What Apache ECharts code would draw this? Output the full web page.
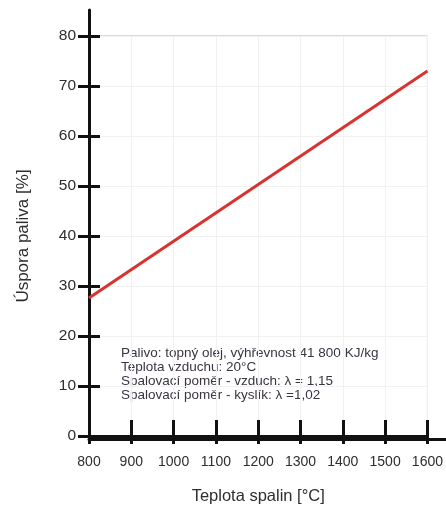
<!DOCTYPE html>
<html><head><meta charset="utf-8">
<script src="https://cdn.jsdelivr.net/npm/echarts@6/dist/echarts.min.js"></script>
<style>html,body{margin:0;padding:0;background:#fff}#c{width:446px;height:510px}</style>
</head><body><div id="c"></div>
<script>
const temps = [800, 1600];
const savings = [27.6, 73.0];
const xTitle = 'Teplota spalin [°C]';
const yTitle = 'Úspora paliva [%]';
const notes = [
  'Palivo: topný olej, výhřevnost 41 800 KJ/kg',
  'Teplota vzduchu: 20°C',
  'Spalovací poměr - vzduch: λ = 1,15',
  'Spalovací poměr - kyslík: λ =1,02'
];
const font = 'Liberation Sans, Arial, sans-serif';
const ink = '#111';
const txt = '#2e2e2e';
const chart = echarts.init(document.getElementById('c'));
const tickStyle = {color: ink, width: 3};
chart.setOption({
  animation: false,
  grid: [
    {left: 89, right: 16, top: 36, bottom: 71, show: true, borderColor: '#b8b8b8', borderWidth: 1},
    {left: 89, right: 0, top: 10, bottom: 71}
  ],
  xAxis: [
    {gridIndex: 0, type: 'value', min: 800, max: 1600, interval: 100,
     name: xTitle, nameLocation: 'middle', nameGap: 52,
     nameTextStyle: {fontFamily: font, fontSize: 16.5, color: txt},
     axisLine: {show: true, lineStyle: {color: ink, width: 3}},
     axisTick: {show: true, length: 8, lineStyle: tickStyle},
     axisLabel: {fontFamily: font, fontSize: 14, color: txt, margin: 19, formatter: v => String(v)},
     splitLine: {show: true, lineStyle: {color: '#f1f1f1', width: 1}}},
    {gridIndex: 0, type: 'value', min: 800, max: 1600, interval: 100, position: 'bottom',
     axisLine: {show: false}, axisTick: {show: true, inside: true, length: 16, lineStyle: tickStyle},
     axisLabel: {show: false}, splitLine: {show: false}},
    {gridIndex: 1, type: 'value', min: 0, max: 1,
     axisLine: {show: true, lineStyle: {color: ink, width: 3}}, axisTick: {show: false},
     axisLabel: {show: false}, splitLine: {show: false}}
  ],
  yAxis: [
    {gridIndex: 0, type: 'value', min: 0, max: 80, interval: 10,
     name: yTitle, nameLocation: 'middle', nameGap: 57,
     nameTextStyle: {fontFamily: font, fontSize: 17, color: txt},
     axisLine: {show: true, lineStyle: {color: ink, width: 3}},
     axisTick: {show: true, length: 11, lineStyle: tickStyle},
     axisLabel: {fontFamily: font, fontSize: 15.5, color: txt, margin: 13},
     splitLine: {show: true, lineStyle: {color: '#f1f1f1', width: 1}}},
    {gridIndex: 0, type: 'value', min: 0, max: 80, interval: 10, position: 'left',
     axisLine: {show: false}, axisTick: {show: true, inside: true, length: 11, lineStyle: tickStyle},
     axisLabel: {show: false}, splitLine: {show: false}},
    {gridIndex: 1, type: 'value', min: 0, max: 1,
     axisLine: {show: true, lineStyle: {color: ink, width: 3}}, axisTick: {show: false},
     axisLabel: {show: false}, splitLine: {show: false}}
  ],
  series: [{
    type: 'line', xAxisIndex: 0, yAxisIndex: 0,
    data: temps.map((t, i) => [t, savings[i]]),
    showSymbol: false, lineStyle: {color: '#d7332f', width: 3}
  }],
  graphic: [{
    type: 'text', left: 121, top: 346,
    style: {text: notes.join('\n'), fontFamily: font, fontSize: 13.5, lineHeight: 14.2, fill: '#3a3442'}
  }]
});
</script></body></html>
